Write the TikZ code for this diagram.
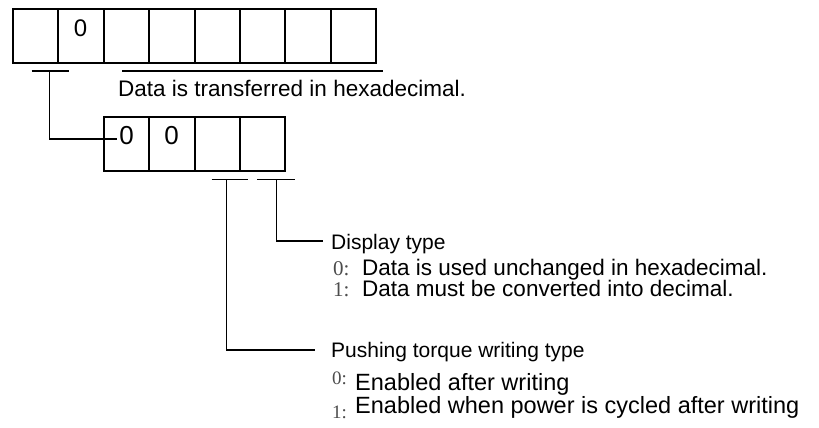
\documentclass[tikz,border=0pt]{standalone}
\usepackage{fontspec}
\setmainfont{Liberation Sans}
\newfontfamily\digfont{Liberation Serif}
\begin{document}
\begin{tikzpicture}[x=1pt,y=-1pt,
  cell/.style={draw,line width=2pt,minimum width=45.4pt,minimum height=54.3pt,inner sep=0pt,outer sep=0pt},
  conn/.style={line width=1.3pt},
  lbl/.style={anchor=base west,inner sep=0pt,text=black},
  num/.style={anchor=base west,inner sep=0pt,text=black!70,font=\digfont\fontsize{21}{21}\selectfont}]
\useasboundingbox (0,0) rectangle (819,428);
% top register (8 digits)
\foreach \i in {1,...,8} {
  \node[cell] (t\i) at ({13+45.4*(\i-0.5)},36.3) {};
}
\node[font=\fontsize{24}{24}\selectfont,inner sep=0pt] (tz) at (80.5,28) {0};
% second register (4 digits)
\foreach \i in {1,...,4} {
  \node[cell] (s\i) at ({104+45.3*(\i-0.5)},144.3) {};
}
\node[font=\fontsize{26}{26}\selectfont,inner sep=0pt] (sz1) at (126.5,136) {0};
\node[font=\fontsize{26}{26}\selectfont,inner sep=0pt] (sz2) at (171.5,136) {0};
% bars under top register
\coordinate (b1l) at (31.7,71);
\coordinate (b1r) at (69,71);
\coordinate (b1m) at (49.3,71);
\draw[conn] (b1l) -- (b1r);
\coordinate (b2l) at (122,71);
\coordinate (b2r) at (383,71);
\draw[conn] (b2l) -- (b2r);
\node[lbl,font=\fontsize{22.5}{22.5}\selectfont] (hex) at (118,96) {Data is transferred in hexadecimal.};
% connector to second register
\coordinate (c1) at (49.3,139);
\coordinate (c1e) at (117,139);
\draw[conn] (b1m) -- (c1) -- (c1e);
% bars under second register
\coordinate (u1l) at (211.7,179.3);
\coordinate (u1r) at (248.3,179.3);
\coordinate (u1m) at (226.7,179.3);
\coordinate (u2l) at (257.3,179.3);
\coordinate (u2r) at (295,179.3);
\coordinate (u2m) at (276.7,179.3);
\draw[conn] (u1l) -- (u1r);
\draw[conn] (u2l) -- (u2r);
% Display type
\node[lbl,font=\fontsize{21}{21}\selectfont] (disp) at (331,249) {Display type};
\coordinate (d1) at (276.7,241);
\coordinate (d1e) at (323,241);
\draw[conn] (u2m) -- (d1) -- (d1e);
\node[num] (d0n) at (333,275) {0:};
\node[lbl,font=\fontsize{22.5}{22.5}\selectfont] (d0t) at (362,275) {Data is used unchanged in hexadecimal.};
\node[num] (d1n) at (333,296) {1:};
\node[lbl,font=\fontsize{22.5}{22.5}\selectfont] (d1t) at (362,296) {Data must be converted into decimal.};
% Pushing torque writing type
\node[lbl,font=\fontsize{21}{21}\selectfont] (push) at (331,357) {Pushing torque writing type};
\coordinate (p1) at (226.7,350);
\coordinate (p1e) at (315,350);
\draw[conn] (u1m) -- (p1) -- (p1e);
\node[num,font=\digfont\fontsize{19}{19}\selectfont] (p0n) at (332,384) {0:};
\node[lbl,font=\fontsize{23.5}{23.5}\selectfont] (p0t) at (355,390) {Enabled after writing};
\node[num,font=\digfont\fontsize{19}{19}\selectfont] (p1n) at (332,418) {1:};
\node[lbl,font=\fontsize{23.5}{23.5}\selectfont] (p1t) at (355,413) {Enabled when power is cycled after writing};
\end{tikzpicture}
\end{document}
